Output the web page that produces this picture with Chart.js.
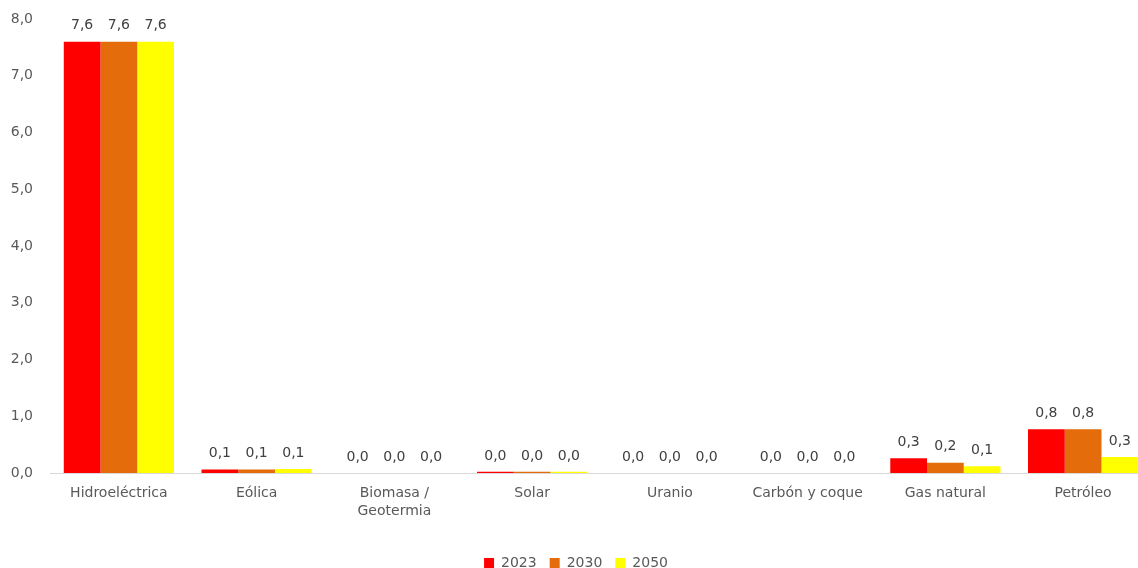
<!DOCTYPE html>
<html lang="es">
<head>
<meta charset="utf-8">
<title>Consumo por fuente</title>
<script src="https://cdn.jsdelivr.net/npm/chart.js@4/dist/chart.umd.min.js"></script>
<style>
  html, body { margin: 0; padding: 0; background: #ffffff; overflow: hidden; }
  #wrap { width: 1138px; height: 568px; overflow: hidden; }
  canvas { display: block; }
</style>
</head>
<body>
<div id="wrap"><canvas id="chart" width="1160" height="568"></canvas></div>
<script>
// Categories and series values
const categories = [
  'Hidroeléctrica',
  'Eólica',
  ['Biomasa /', 'Geotermia'],
  'Solar',
  'Uranio',
  'Carbón y coque',
  'Gas natural',
  'Petróleo'
];
const years = ['2023', '2030', '2050'];
const values2023 = [7.6, 0.06, 0.0, 0.02, 0.0, 0.0, 0.26, 0.77];
const values2030 = [7.6, 0.06, 0.0, 0.02, 0.0, 0.0, 0.18, 0.77];
const values2050 = [7.6, 0.07, 0.0, 0.02, 0.0, 0.0, 0.12, 0.28];
const yTicks = [0, 1, 2, 3, 4, 5, 6, 7, 8];

const colors = ['#FF0000', '#E46C0A', '#FFFF00'];
const textColor = '#595959';
const fontFamily = '"DejaVu Sans", "Open Sans", sans-serif';

const fmt = v => v.toFixed(1).replace('.', ',');

// Value labels above each bar
const valueLabels = {
  id: 'valueLabels',
  afterDatasetsDraw(chart) {
    const ctx = chart.ctx;
    ctx.save();
    ctx.font = '14px ' + fontFamily;
    ctx.fillStyle = '#404040';
    ctx.textAlign = 'center';
    ctx.textBaseline = 'middle';
    chart.data.datasets.forEach((ds, i) => {
      const meta = chart.getDatasetMeta(i);
      meta.data.forEach((bar, j) => {
        ctx.fillText(fmt(ds.data[j]), bar.x, bar.y - 16);
      });
    });
    ctx.restore();
  }
};

new Chart(document.getElementById('chart'), {
  type: 'bar',
  data: {
    labels: categories,
    datasets: [
      { label: years[0], data: values2023, backgroundColor: colors[0] },
      { label: years[1], data: values2030, backgroundColor: colors[1] },
      { label: years[2], data: values2050, backgroundColor: colors[2] }
    ]
  },
  options: {
    responsive: false,
    devicePixelRatio: 1,
    animation: false,
    categoryPercentage: 0.8,
    barPercentage: 1.0,
    layout: { padding: { top: 19, right: 8, left: 0, bottom: -12 } },
    scales: {
      x: {
        grid: { display: false, drawTicks: false },
        border: { display: true, color: '#D9D9D9', width: 1 },
        ticks: {
          color: textColor,
          font: { family: fontFamily, size: 14, lineHeight: 1.3 },
          padding: 11,
          maxRotation: 0,
          autoSkip: false
        },
        afterFit(scale) { scale.height = 70; }
      },
      y: {
        min: 0,
        max: 8,
        afterBuildTicks(scale) { scale.ticks = yTicks.map(v => ({ value: v })); },
        grid: { display: false, drawTicks: false },
        border: { display: false },
        ticks: {
          color: textColor,
          font: { family: fontFamily, size: 14 },
          padding: 17,
          callback: v => fmt(v)
        },
        afterFit(scale) {
          scale.width = 50;
          scale.paddingTop = 0;
          scale.paddingBottom = 0;
        }
      }
    },
    plugins: {
      legend: {
        position: 'bottom',
        labels: {
          color: textColor,
          font: { family: fontFamily, size: 14 },
          boxWidth: 10,
          boxHeight: 10,
          padding: 13
        }
      },
      tooltip: { enabled: false }
    }
  },
  plugins: [valueLabels]
});
</script>
</body>
</html>
